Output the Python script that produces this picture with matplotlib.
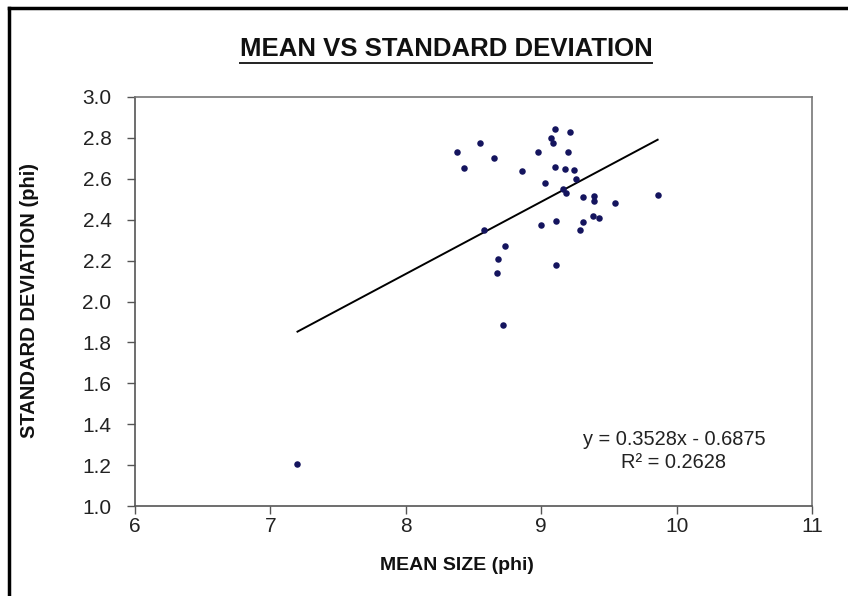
import matplotlib
matplotlib.use("Agg")
import matplotlib.pyplot as plt
from matplotlib.lines import Line2D
import numpy as np

plt.rcParams['font.family'] = ['Liberation Sans', 'DejaVu Sans']

mean_size = [9.10, 9.21, 9.07, 9.085, 8.55, 8.38, 8.98, 9.20, 8.65, 8.43,
             9.10, 9.175, 9.24, 8.86, 9.26, 9.03, 9.16, 9.18, 9.31, 9.39,
             9.39, 9.545, 9.86, 9.38, 9.43, 9.11, 9.00, 9.31, 9.29, 8.58,
             8.73, 8.68, 8.67, 9.11, 8.72, 7.20]
std_dev = [2.845, 2.83, 2.80, 2.775, 2.775, 2.73, 2.73, 2.73, 2.70, 2.655,
           2.66, 2.65, 2.645, 2.64, 2.60, 2.58, 2.55, 2.53, 2.51, 2.515,
           2.49, 2.48, 2.52, 2.42, 2.41, 2.395, 2.375, 2.39, 2.35, 2.35,
           2.27, 2.21, 2.14, 2.18, 1.885, 1.205]
slope = 0.3528
intercept = -0.6875
r2 = 0.2628

x_ticks = [6, 7, 8, 9, 10, 11]
y_ticks = [1.0, 1.2, 1.4, 1.6, 1.8, 2.0, 2.2, 2.4, 2.6, 2.8, 3.0]

W, H = 848, 596
fig = plt.figure(figsize=(W / 100, H / 100), dpi=100)
ax = fig.add_axes([135 / W, 1 - 506 / H, (812 - 135) / W, (506 - 97) / H])

ax.scatter(mean_size, std_dev, s=22, color='#14145e', zorder=3, linewidths=0)
xl = np.array([min(mean_size), max(mean_size)])
ax.plot(xl, slope * xl + intercept, color='black', lw=1.4, zorder=2)

ax.set_xlim(6, 11)
ax.set_ylim(1.0, 3.0)
ax.set_xticks(x_ticks)
ax.set_xticklabels([str(t) for t in x_ticks])
ax.set_yticks(y_ticks)
ax.set_yticklabels([f"{t:.1f}" for t in y_ticks])
ax.tick_params(direction='out', length=6, width=1, colors='#555555',
               labelsize=15, labelcolor='#222222')
ax.tick_params(axis='x', pad=2)
ax.tick_params(axis='y', pad=11)
for s in ax.spines.values():
    s.set_color('#777777')
    s.set_linewidth(1.2)
ax.spines['left'].set_color('#555555')
ax.spines['bottom'].set_color('#555555')

fig.text(457 / W, 1 - 566 / H, 'MEAN SIZE (phi)', ha='center', va='center',
         fontsize=14, fontweight='bold', color='#111111')
fig.text(30 / W, 1 - 300 / H, 'STANDARD DEVIATION (phi)', ha='center',
         va='center', rotation=90, fontsize=14.5, fontweight='bold',
         color='#111111')

ax.text(0.796, 0.135, f"y = {slope:.4f}x - {abs(intercept):.4f}\nR² = {r2:.4f}",
        transform=ax.transAxes, ha='center', va='center', fontsize=14.4,
        linespacing=1.3, color='#222222')

fig.text(446 / W, 1 - 49 / H, 'MEAN VS STANDARD DEVIATION', ha='center',
         va='center', fontsize=18.5, fontweight='bold', color='#111111')
# underline
fig.add_artist(Line2D([240 / W, 652 / W], [1 - 63 / H, 1 - 63 / H],
                      color='#222222', lw=1.4, transform=fig.transFigure))

# outer frame (left and top edges)
fig.add_artist(Line2D([8.5 / W, 8.5 / W], [0, 1 - 8 / H], color='black',
                      lw=2.5, transform=fig.transFigure))
fig.add_artist(Line2D([8.5 / W, 1], [1 - 8 / H, 1 - 8 / H], color='black',
                      lw=2.5, transform=fig.transFigure))

fig.savefig('out.png', dpi=100)
